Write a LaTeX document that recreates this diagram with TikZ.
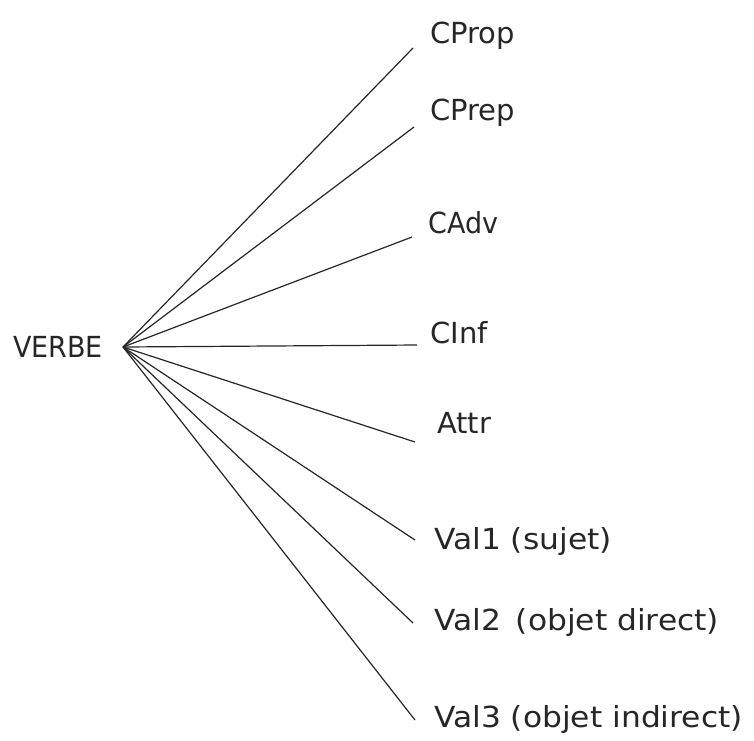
\documentclass[tikz,border=0pt]{standalone}
\usepackage{fontspec}
\setmainfont{DejaVu Sans}
\newfontfamily\widesans[FakeStretch=1.08]{DejaVu Sans}
\newfontfamily\narrowsans[FakeStretch=0.93]{DejaVu Sans}
\begin{document}
\begin{tikzpicture}[x=1pt,y=-1pt,
  lbl/.style={anchor=base west,inner sep=0pt,text=black!85,font=\fontsize{29}{34}\selectfont},
  wide/.style={lbl,font=\fontsize{29}{34}\widesans},
  narrow/.style={lbl,font=\fontsize{29}{34}\narrowsans},
  branch/.style={line width=1.2pt,black!85}]
\useasboundingbox (0,0) rectangle (754,740);
% root and its branching point
\node[narrow] (verbe) at (13,357) {VERBE};
\coordinate (hub) at (123,347);
% complement labels
\node[lbl] (cprop) at (430,43)  {CProp};
\node[lbl] (cprep) at (430,120) {CPrep};
\node[narrow] (cadv) at (428,233) {CAdv};
\node[lbl] (cinf)  at (430,343) {CInf};
\node[lbl] (attr)  at (437,433) {Attr};
\node[wide] (val1) at (434,549) {Val1 (sujet)};
\node[wide] (val2) at (434,630) {Val2 \,(objet direct)};
\node[wide] (val3) at (434,727) {Val3 (objet indirect)};
% line ends beside each label
\coordinate (e1) at (413,48);
\coordinate (e2) at (414,127);
\coordinate (e3) at (412,237);
\coordinate (e4) at (417,345);
\coordinate (e5) at (415,442);
\coordinate (e6) at (415,540);
\coordinate (e7) at (413,623);
\coordinate (e8) at (415,720);
\foreach \e in {e1,e2,e3,e4,e5,e6,e7,e8}
  \draw[branch] (hub) -- (\e);
\end{tikzpicture}
\end{document}
